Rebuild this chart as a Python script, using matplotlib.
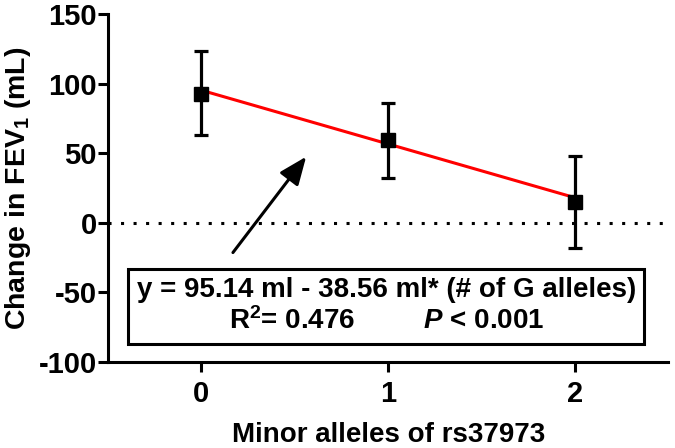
import numpy as np
import matplotlib
matplotlib.use("Agg")
import matplotlib.pyplot as plt

plt.rcParams['font.family'] = ['Liberation Sans', 'DejaVu Sans']
plt.rcParams['font.weight'] = 'bold'
plt.rcParams['axes.unicode_minus'] = False
plt.rcParams['mathtext.fontset'] = 'custom'
plt.rcParams['mathtext.rm'] = 'Liberation Sans:bold'
plt.rcParams['mathtext.bf'] = 'Liberation Sans:bold'
plt.rcParams['mathtext.it'] = 'Liberation Sans:italic:bold'

alleles = [0, 1, 2]
change_mean = [92.5, 59.5, 15.2]
err_upper = [123.4, 86.3, 48.2]
err_lower = [63.1, 32.4, -17.9]
fit_intercept = 95.14
fit_slope = -38.56

fig = plt.figure(figsize=(6.75, 4.48), dpi=100)
ax = fig.add_axes([0.16, 0.192, 0.83, 0.777])

mean = np.array(change_mean)
yerr = [mean - np.array(err_lower), np.array(err_upper) - mean]

ax.axhline(0, color='black', lw=2.2, linestyle=(0, (1, 3.1)), zorder=1)

xfit = np.array([alleles[0], alleles[-1]])
ax.plot(xfit, fit_intercept + fit_slope * xfit, color='red', lw=2.2, zorder=2)

ax.errorbar(alleles, mean, yerr=yerr, fmt='s', color='black', ms=10,
            elinewidth=2.3, capsize=5, capthick=2.3, zorder=3)

# arrow pointing at the regression line
ax.annotate('', xy=(0.57, 49), xytext=(0.16, -23),
            arrowprops=dict(arrowstyle='-|>,head_length=1.7,head_width=0.7',
                            color='black', lw=2.2))

ax.text(0.99, -60,
        'y = 95.14 ml - 38.56 ml* (# of G alleles)\n'
        r'R$^2$= 0.476         $P$ < 0.001',
        ha='center', va='center', fontsize=20, fontweight='bold',
        linespacing=1.2,
        bbox=dict(boxstyle='square,pad=0.3', fc='white', ec='black', lw=2.2))

ax.set_xlim(-0.5, 2.5)
ax.set_ylim(-100, 150)
ax.set_xticks(alleles)
ax.set_yticks([-100, -50, 0, 50, 100, 150])

for s in ['top', 'right']:
    ax.spines[s].set_visible(False)
for s in ['left', 'bottom']:
    ax.spines[s].set_linewidth(2.2)
ax.tick_params(width=2.2, length=7, labelsize=21, direction='out')
ax.tick_params(axis='y', pad=1)
ax.tick_params(axis='x', pad=6)

ax.set_xlabel('Minor alleles of rs37973', fontsize=20, fontweight='bold', labelpad=10)
ax.set_ylabel(r'Change in FEV$_1$ (mL)', fontsize=20.5, fontweight='bold', labelpad=4)

fig.savefig('out.png', dpi=100)
